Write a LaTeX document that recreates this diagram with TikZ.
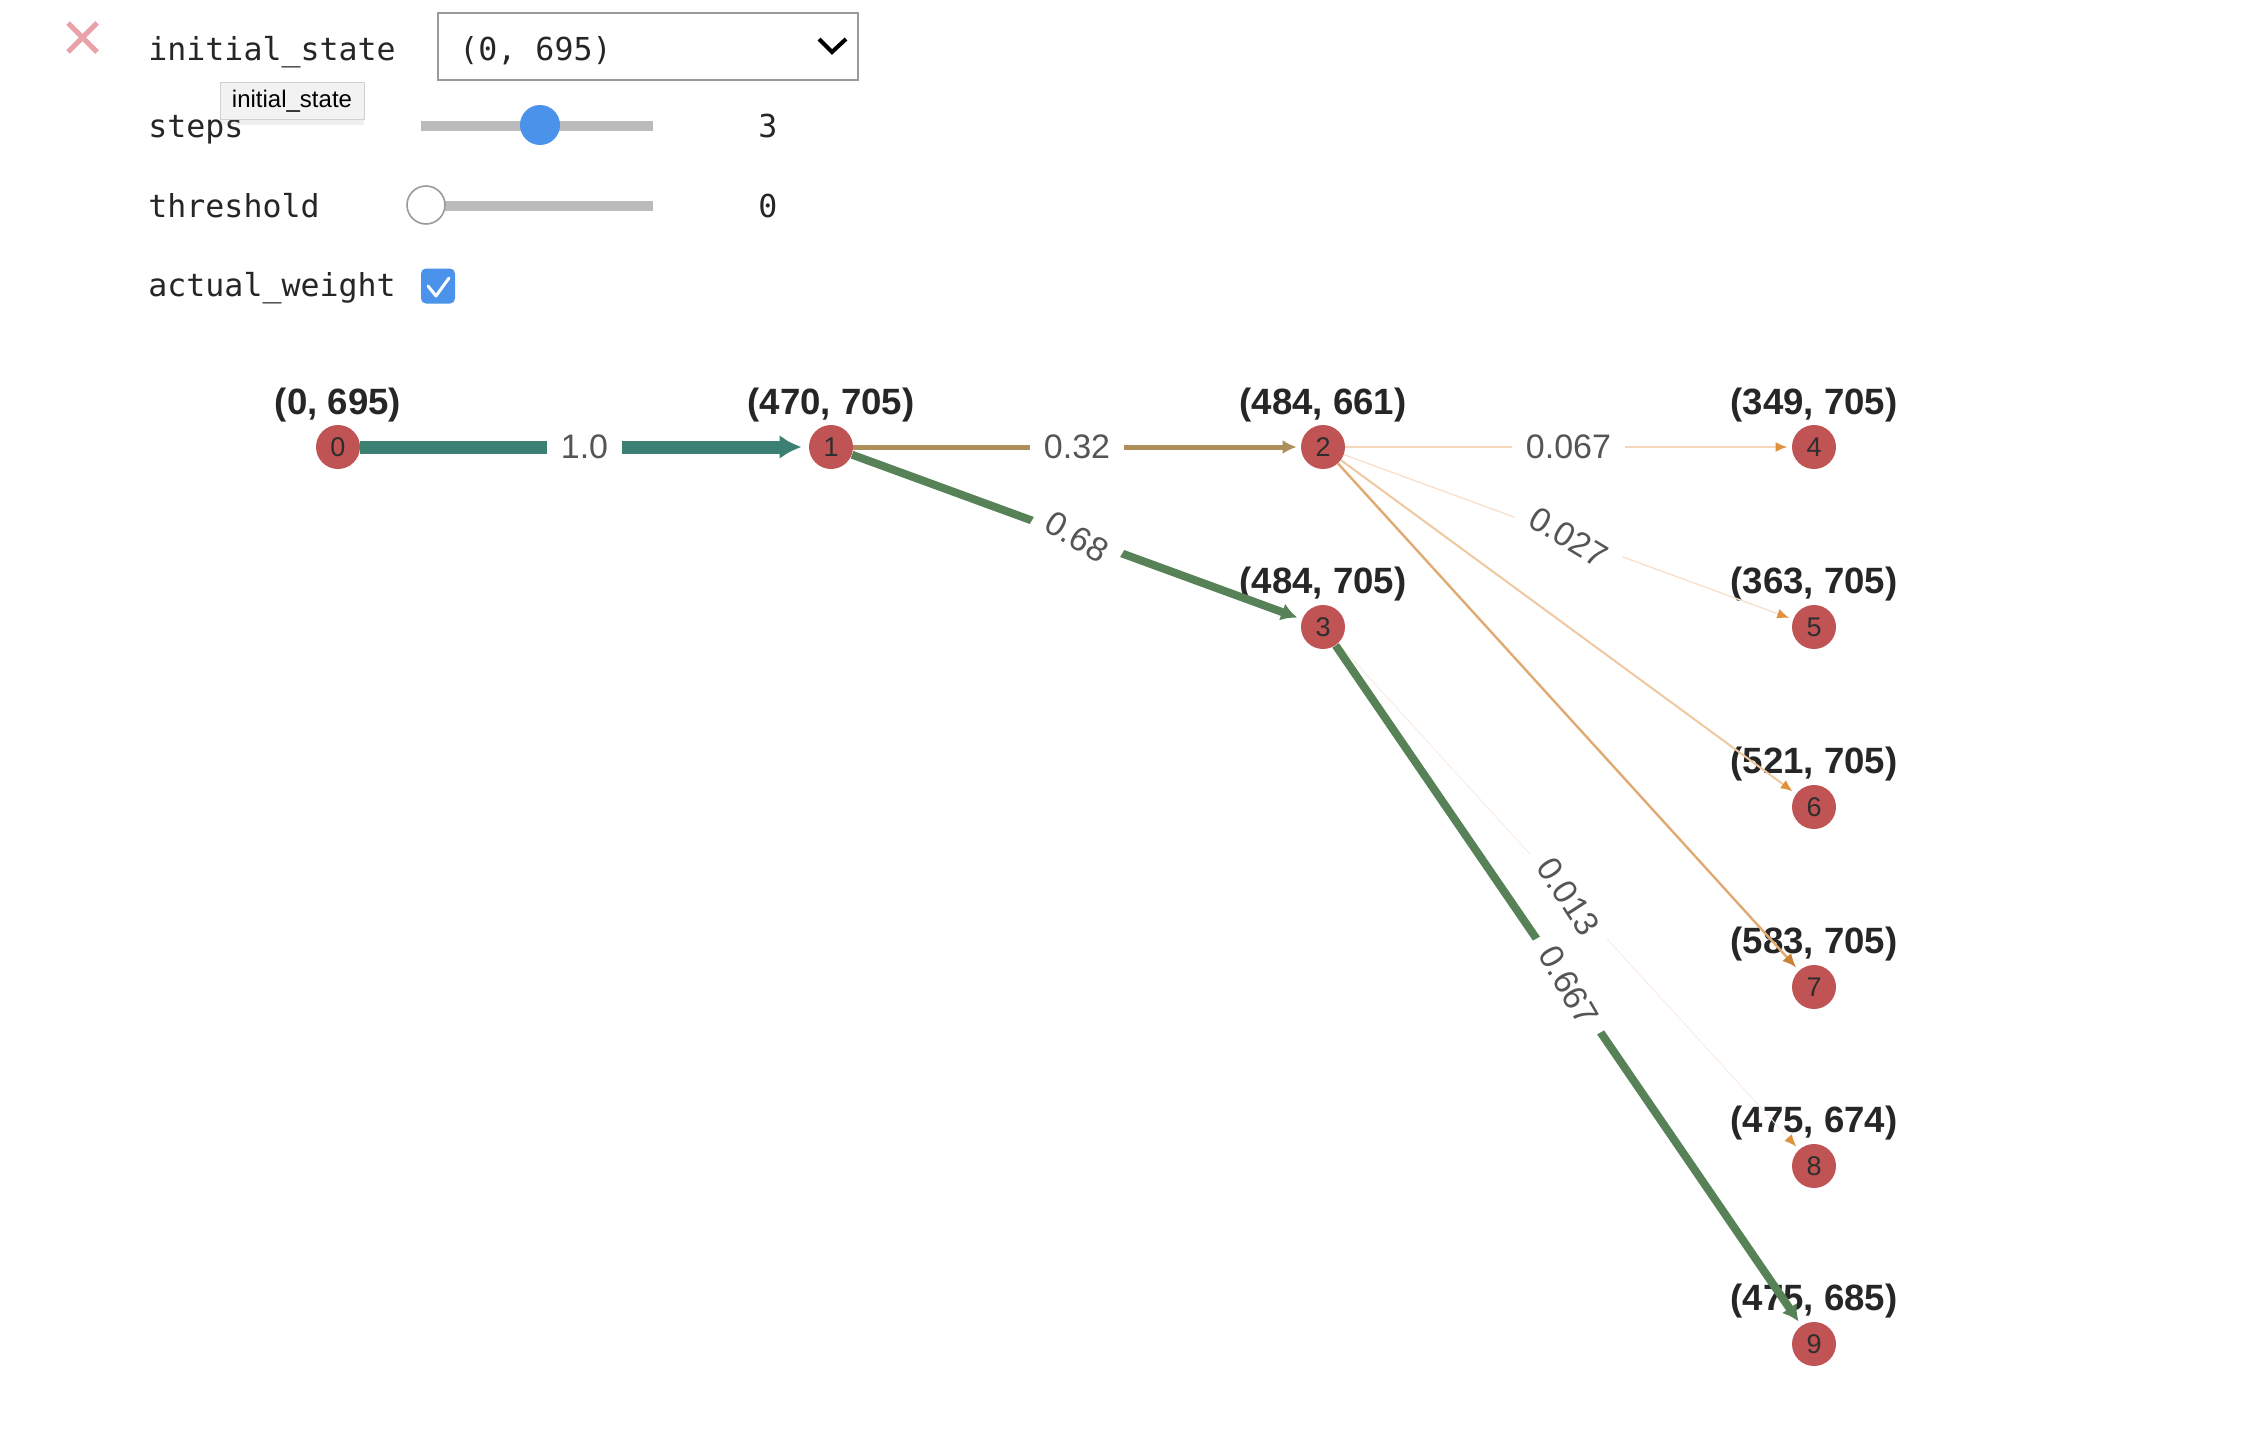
\documentclass[tikz,border=0pt]{standalone}
\usepackage{fontspec}
\setmainfont{Liberation Sans}
\setmonofont{DejaVu Sans Mono}
\usetikzlibrary{arrows.meta,shadows}
\definecolor{nodered}{HTML}{C05353}
\definecolor{numtext}{HTML}{2E2E2E}
\definecolor{labtext}{HTML}{262626}
\definecolor{wtext}{HTML}{555555}
\definecolor{eteal}{HTML}{3B8072}
\definecolor{egold}{HTML}{AE8E5A}
\definecolor{egreen}{HTML}{578258}
\definecolor{epeach}{HTML}{F5D6B8}
\definecolor{epale}{HTML}{F8E2CF}
\definecolor{elight}{HTML}{EFC8A0}
\definecolor{eorange}{HTML}{E0AA72}
\definecolor{efaint}{HTML}{FAEDE3}
\definecolor{tipor}{HTML}{E0913C}
\definecolor{xpink}{HTML}{E8A2A8}
\definecolor{track}{HTML}{BBBBBB}
\definecolor{knobblue}{HTML}{4A92EA}
\definecolor{boxgrey}{HTML}{9A9A9A}
\pgfdeclarelayer{bg}
\pgfdeclarelayer{labs}
\pgfdeclarelayer{edg}
\pgfsetlayers{bg,labs,edg,main}
\tikzset{
  gnode/.style={circle, fill=nodered, minimum size=22pt, inner sep=0pt,
    text=numtext, font=\fontsize{13.5}{15}\selectfont},
  coordlab/.style={inner sep=0pt, text=labtext, font=\bfseries\fontsize{18.3}{21}\selectfont},
  elab/.style={fill=white, inner xsep=7pt, inner ysep=3pt, text=wtext,
    font=\fontsize{17}{20}\selectfont},
  monotext/.style={inner sep=0pt, anchor=base west, text=labtext,
    font=\ttfamily\fontsize{15.8}{18}\selectfont},
  smalltip/.style={-{Latex[length=6pt,width=5pt,color=tipor]}, shorten >=2pt},
}
\begin{document}
\begin{tikzpicture}[x=0.5pt,y=-0.5pt]
\useasboundingbox (0,0) rectangle (2260,1456);
\begin{pgfonlayer}{bg}
\fill[white] (0,0) rectangle (2260,1456);
\end{pgfonlayer}

% ---------- widget panel ----------
\draw[xpink, line width=2.5pt] (68,23) -- (97,52) (97,23) -- (68,52);
\node[monotext] (lblinit) at (148,60) {initial\_state};
\node[monotext] (lblsteps) at (148,137) {steps};
\node[monotext] (lblthr) at (148,217) {threshold};
\node[monotext] (lblaw) at (148,296) {actual\_weight};

\node[draw=boxgrey, line width=1pt, minimum width=210pt, minimum height=33.5pt,
  anchor=north west, inner sep=0pt] (dropbox) at (437,12) {};
\node[monotext] (dropval) at (459,60) {(0, 695)};
\draw[black, line width=2pt] (819,39) -- (832,52) -- (846,39);

\draw[track, line width=5pt] (421,126) -- (653,126);
\node[circle, fill=knobblue, minimum size=20pt, inner sep=0pt] (knobsteps) at (540,125) {};
\node[monotext, anchor=base] (valsteps) at (768,137) {3};

\draw[track, line width=5pt] (425,206) -- (653,206);
\node[circle, fill=white, draw=boxgrey, line width=0.8pt, minimum size=19pt, inner sep=0pt] (knobthr) at (426,205) {};
\node[monotext, anchor=base] (valthr) at (768,217) {0};

\node[fill=knobblue, rounded corners=2.5pt, minimum width=17pt, minimum height=17.5pt,
  inner sep=0pt] (checkbox) at (438,286) {};
\draw[white, line width=1.5pt, line cap=round, line join=round]
  (428,286) -- (436,296) -- (449,278);

\node[fill=black!5, draw=black!18, line width=0.4pt, minimum width=72pt, minimum height=18.5pt,
  inner sep=0pt, drop shadow={shadow xshift=0pt, shadow yshift=-3pt, opacity=0.12}]
  (tooltip) at (292,100.5) {};
\node[inner sep=0pt, text=black, font=\fontsize{12}{14}\selectfont] (tiptext) at (292,101) {initial\_state};

% ---------- graph nodes ----------
\node[gnode] (n0) at (338,447) {0};
\node[gnode] (n1) at (831,447) {1};
\node[gnode] (n2) at (1323,447) {2};
\node[gnode] (n3) at (1323,627) {3};
\node[gnode] (n4) at (1814,447) {4};
\node[gnode] (n5) at (1814,627) {5};
\node[gnode] (n6) at (1814,807) {6};
\node[gnode] (n7) at (1814,987) {7};
\node[gnode] (n8) at (1814,1166) {8};
\node[gnode] (n9) at (1814,1344) {9};

\begin{pgfonlayer}{labs}
\node[coordlab] (t0) at (338,405) {(0, 695)};
\node[coordlab] (t1) at (831,405) {(470, 705)};
\node[coordlab] (t2) at (1323,405) {(484, 661)};
\node[coordlab] (t3) at (1323,584) {(484, 705)};
\node[coordlab] (t4) at (1814,405) {(349, 705)};
\node[coordlab] (t5) at (1814,584) {(363, 705)};
\node[coordlab] (t6) at (1814,764) {(521, 705)};
\node[coordlab] (t7) at (1814,944) {(583, 705)};
\node[coordlab] (t8) at (1814,1123) {(475, 674)};
\node[coordlab] (t9) at (1814,1301) {(475, 685)};
\end{pgfonlayer}

% ---------- edges ----------
\begin{pgfonlayer}{edg}
\draw[eteal, line width=6.5pt, -{Latex[length=11pt,width=12pt]}, shorten >=3.5pt] (n0) -- (n1);
\draw[egold, line width=2.5pt, -{Latex[length=7pt,width=7pt]}, shorten >=2pt] (n1) -- (n2);
\draw[egreen, line width=4pt, -{Latex[length=8pt,width=9pt]}, shorten >=2.5pt] (n1) -- (n3);
\draw[epeach, line width=1.2pt, smalltip] (n2) -- (n4);
\draw[epale, line width=0.7pt, smalltip] (n2) -- (n5);
\draw[elight, line width=1pt, smalltip] (n2) -- (n6);
\draw[eorange, line width=1.2pt, -{Latex[length=7pt,width=6pt,color=tipor!90!black]}, shorten >=2pt] (n2) -- (n7);
\draw[efaint, line width=0.5pt, smalltip] (n3) -- (n8);
\draw[egreen, line width=4pt, -{Latex[length=8pt,width=9pt]}, shorten >=2.5pt] (n3) -- (n9);
\end{pgfonlayer}

% ---------- edge labels ----------
\path (n0) -- node[elab] (w01) {1.0} (n1);
\path (n1) -- node[elab] (w12) {0.32} (n2);
\path (n1) -- node[elab, rotate=-31] (w13) {0.68} (n3);
\path (n2) -- node[elab] (w24) {0.067} (n4);
\path (n2) -- node[elab, rotate=-31] (w25) {0.027} (n5);
\path (n3) -- node[elab, rotate=-57] (w38) {0.013} (n8);
\path (n3) -- node[elab, rotate=-60] (w39) {0.667} (n9);
\end{tikzpicture}
\end{document}
